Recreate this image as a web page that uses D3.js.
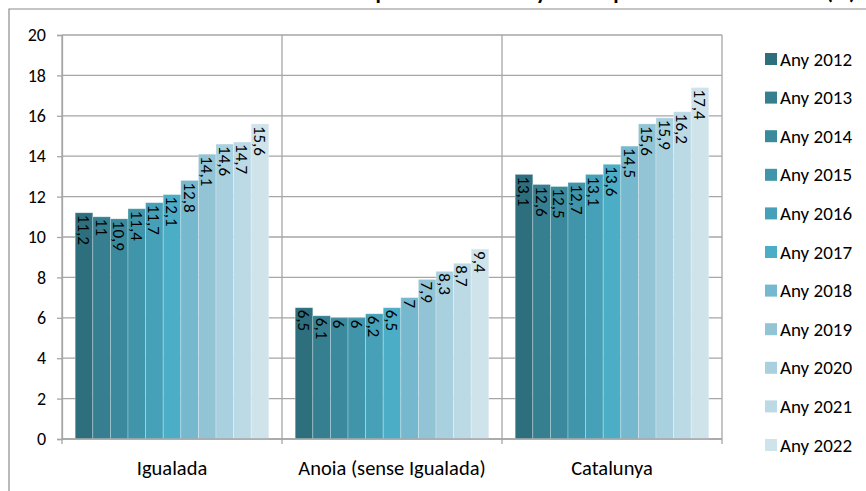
<!DOCTYPE html>
<html><head><meta charset="utf-8">
<script src="https://cdn.jsdelivr.net/npm/d3@7"></script>
<style>body{margin:0;background:#fff}svg{display:block}</style>
</head><body>
<svg id="c" width="866" height="491"></svg>
<script>
const title = "Evolució de la població de 65 anys i més per cada 100 habitants (%)";
const categories = ["Igualada", "Anoia (sense Igualada)", "Catalunya"];
const series = ["Any 2012","Any 2013","Any 2014","Any 2015","Any 2016","Any 2017","Any 2018","Any 2019","Any 2020","Any 2021","Any 2022"];
const igualada = [11.2, 11, 10.9, 11.4, 11.7, 12.1, 12.8, 14.1, 14.6, 14.7, 15.6];
const anoia = [6.5, 6.1, 6, 6, 6.2, 6.5, 7, 7.9, 8.3, 8.7, 9.4];
const catalunya = [13.1, 12.6, 12.5, 12.7, 13.1, 13.6, 14.5, 15.6, 15.9, 16.2, 17.4];
const colors = ["#2e6f7e","#357f91","#3a899c","#4095aa","#46a1b8","#4badc6","#76b8cd","#93c4d6","#a9d0de","#bcdae5","#cfe3ea"];
const yTicks = [0,2,4,6,8,10,12,14,16,18,20];

const values = [igualada, anoia, catalunya];
const svg = d3.select("#c");
const font = "Calibri, Carlito, 'Open Sans', sans-serif";
const L = 62, R = 722, T = 35, B = 439;

// outer frame
svg.append("path").attr("d", "M9,491 V9 H866").attr("fill","none").attr("stroke","#8c8c8c").attr("stroke-width",1.2);
// title (cut off at top, as in the reference)
const tt = svg.append("text").attr("x", 0).attr("y", -1).attr("text-anchor","start")
  .attr("font-family", font).attr("font-weight","bold").attr("font-size",22).attr("fill","#000").text(title);
const paren = title.indexOf("(");
tt.attr("x", 826 - tt.node().getSubStringLength(0, paren));

const x0 = d3.scaleBand().domain(categories).range([L, R]);
const x1 = d3.scaleBand().domain(series).range([0, x0.bandwidth()]).paddingOuter(0.75);
const y = d3.scaleLinear().domain([0, 20]).range([B, T]);

// gridlines
svg.append("g").selectAll("line").data(yTicks).join("line")
  .attr("x1", L).attr("x2", R).attr("y1", d=>y(d)).attr("y2", d=>y(d))
  .attr("stroke","#a6a6a6").attr("stroke-width",1.3);

// y axis
const ya = svg.append("g").attr("transform",`translate(${L},0)`)
  .call(d3.axisLeft(y).tickValues(yTicks).tickSize(5).tickPadding(11));
ya.select(".domain").attr("stroke","#a6a6a6").attr("stroke-width",1.3);
ya.selectAll(".tick line").attr("stroke","#a6a6a6").attr("stroke-width",1.3);
ya.selectAll("text").attr("font-family",font).attr("font-size",18).attr("fill","#000").attr("text-anchor","end");

// vertical separators + right frame
const seps = [L, ...categories.map(c => x0(c) + x0.bandwidth())];
svg.append("g").selectAll("line").data(seps).join("line")
  .attr("x1", d=>d).attr("x2", d=>d).attr("y1", T).attr("y2", B + 5)
  .attr("stroke","#a6a6a6").attr("stroke-width",1.3);

// bars
const groups = svg.append("g").selectAll("g").data(categories).join("g")
  .attr("transform", c => `translate(${x0(c)},0)`);
groups.each(function(c, ci) {
  const g = d3.select(this);
  const data = values[ci].map((v, i) => ({s: series[i], v, i}));
  g.selectAll("rect").data(data).join("rect")
    .attr("x", d => x1(d.s)).attr("width", x1.bandwidth())
    .attr("y", d => y(d.v)).attr("height", d => y(0) - y(d.v))
    .attr("fill", d => colors[d.i]).attr("stroke","#ffffff").attr("stroke-opacity",0.35).attr("stroke-width",0.8);
  g.selectAll("text").data(data).join("text")
    .attr("transform", d => `translate(${x1(d.s) + x1.bandwidth()/2},${y(d.v) + 2}) rotate(90)`)
    .attr("dy", "0.35em").attr("text-anchor","start")
    .attr("font-family", font).attr("font-size",17).attr("fill","#000")
    .text(d => String(d.v).replace(".", ","));
});

// x-axis baseline
svg.append("line").attr("x1", L).attr("x2", R).attr("y1", B).attr("y2", B)
  .attr("stroke","#a6a6a6").attr("stroke-width",1.3);

// category labels
svg.append("g").selectAll("text").data(categories).join("text")
  .attr("x", c => x0(c) + x0.bandwidth()/2).attr("y", 475).attr("text-anchor","middle")
  .attr("font-family", font).attr("font-size",20.5).attr("fill","#000").text(c => c);

// legend
const ly = d3.scalePoint().domain(series).range([59, 445]);
const lg = svg.append("g").selectAll("g").data(series).join("g")
  .attr("transform", s => `translate(765,${ly(s)})`);
lg.append("rect").attr("x",0).attr("y",-6).attr("width",12).attr("height",12).attr("fill",(s,i)=>colors[i]);
lg.append("text").attr("x",15).attr("dy","0.35em").attr("font-family",font).attr("font-size",19).attr("fill","#000").text(s=>s);
</script>
</body></html>
